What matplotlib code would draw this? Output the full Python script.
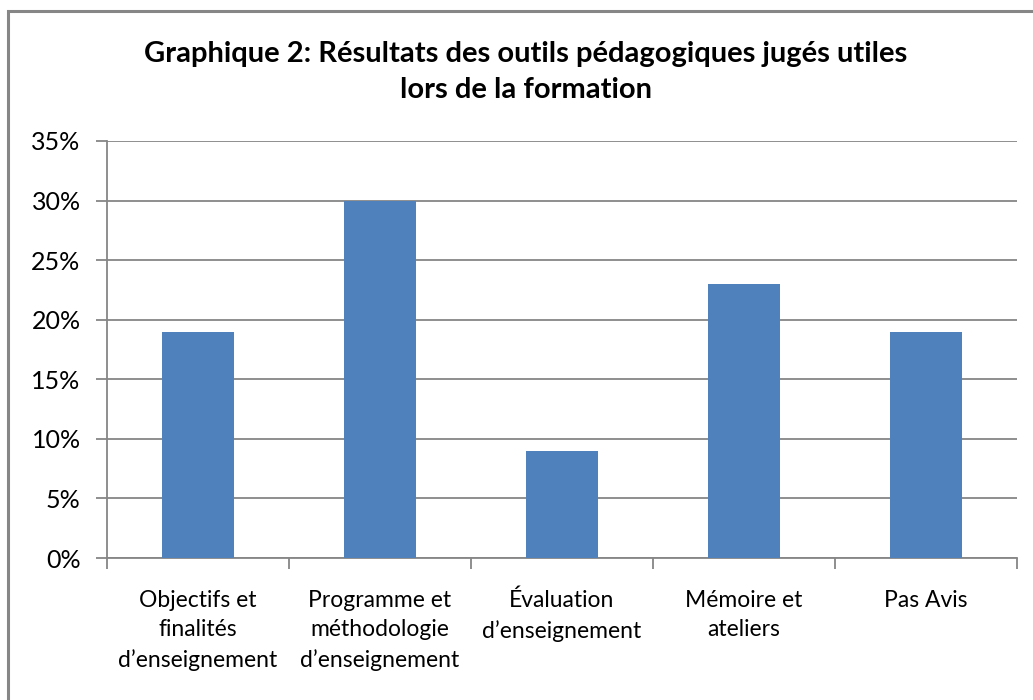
import matplotlib
matplotlib.use("Agg")
import matplotlib.pyplot as plt
from matplotlib.patches import Rectangle
from matplotlib.ticker import FuncFormatter, MultipleLocator

categories = ["Objectifs et\nfinalités\nd\u2019enseignement",
              "Programme et\nméthodologie\nd\u2019enseignement",
              "Évaluation\nd\u2019enseignement",
              "Mémoire et\nateliers",
              "Pas Avis"]
values = [19, 30, 9, 23, 19]
title = "Graphique 2: Résultats des outils pédagogiques jugés utiles\nlors de la formation"

plt.rcParams['font.family'] = ['Lato', 'DejaVu Sans']
grey = "#868686"
fig = plt.figure(figsize=(10.33, 7), dpi=100)
W, H = 1033, 700
ax = fig.add_axes([107 / W, 1 - 558 / H, 910 / W, (558 - 141) / H])

x = list(range(len(categories)))
ax.bar(x, values, width=0.4, color="#4F81BD", zorder=3)
ax.set_xlim(-0.5, len(categories) - 0.5)
ax.set_ylim(0, 35)
ax.yaxis.set_major_locator(MultipleLocator(5))
ax.yaxis.set_major_formatter(FuncFormatter(lambda v, p: f"{int(v)}%"))
ax.grid(axis='y', color=grey, linewidth=1.3, zorder=0)
ax.set_xticks([i - 0.5 for i in range(len(categories) + 1)])
ax.set_xticklabels([])
ax.set_xticks(x, minor=True)
ax.set_xticklabels(categories, minor=True, fontsize=16.5, linespacing=1.5, va='top')
ax.tick_params(axis='x', which='minor', length=0, pad=23)
ax.tick_params(axis='x', which='major', length=8, color=grey, width=1.3)
ax.tick_params(axis='y', length=8, color=grey, width=1.3, labelsize=18, pad=11)
for s in ['top', 'right']:
    ax.spines[s].set_visible(False)
for s in ['left', 'bottom']:
    ax.spines[s].set_color(grey)
    ax.spines[s].set_linewidth(1.3)

fig.text(526 / W, 1 - 72 / H, title, ha='center', va='center', fontsize=21,
         fontweight='bold', linespacing=1.5)

fig.patches.append(Rectangle((8 / W, -0.05), 1.2, 1 - 11 / H + 0.05, transform=fig.transFigure,
                             fill=False, edgecolor=grey, linewidth=2.2))

fig.savefig("out.png", dpi=100)
